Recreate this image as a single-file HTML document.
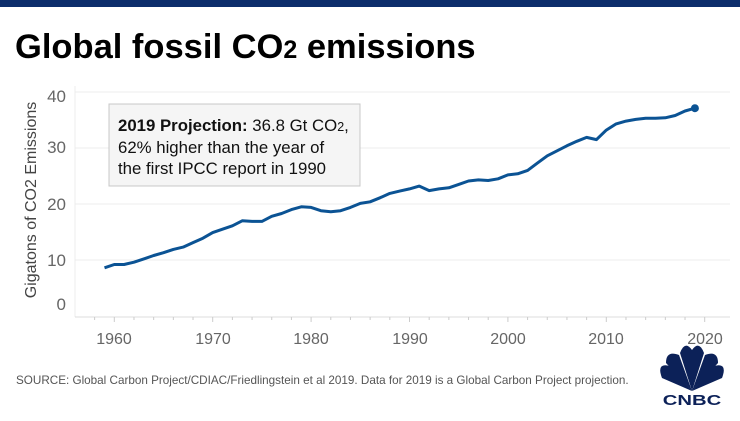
<!DOCTYPE html>
<html><head><meta charset="utf-8"><style>
body{margin:0;width:740px;height:416px;background:#fff;overflow:hidden;font-family:"Liberation Sans",sans-serif}
</style></head><body>
<svg width="740" height="416" xmlns="http://www.w3.org/2000/svg" font-family="Liberation Sans, sans-serif">
<rect x="0" y="0" width="740" height="7" fill="#0c2d6b"/>
<text x="15" y="58" font-size="34.5" font-weight="bold" fill="#000">Global fossil CO<tspan font-size="25">2</tspan> emissions</text>
<g stroke="#ececec" stroke-width="1">
<line x1="75" x2="730" y1="92" y2="92"/><line x1="75" x2="730" y1="148" y2="148"/>
<line x1="75" x2="730" y1="204" y2="204"/><line x1="75" x2="730" y1="260" y2="260"/>
<line x1="75" x2="75" y1="86" y2="317"/>
</g>
<line x1="75" x2="730" y1="317" y2="317" stroke="#ddd"/>
<g id="ticks" stroke="#ccc"></g>
<g font-size="17" fill="#666" text-anchor="end">
<text x="66" y="102">40</text><text x="66" y="153">30</text><text x="66" y="210">20</text><text x="66" y="266">10</text><text x="66" y="310">0</text>
</g>
<g font-size="16" fill="#666" text-anchor="middle">
<text x="114" y="344">1960</text><text x="213" y="344">1970</text><text x="311" y="344">1980</text><text x="410" y="344">1990</text><text x="508" y="344">2000</text><text x="606" y="344">2010</text><text x="705" y="344">2020</text>
</g>
<text transform="translate(36,200) rotate(-90)" font-size="16" fill="#444" text-anchor="middle">Gigatons of CO2 Emissions</text>
<polyline id="ln" fill="none" stroke="#0b5394" stroke-width="3" stroke-linejoin="round"/>
<circle id="dot" r="4" fill="#0b5394"/>
<rect x="109" y="104" width="251" height="82" fill="#f5f5f5" stroke="#c8c8c8"/>
<g font-size="16.8" fill="#111">
<text x="118" y="131"><tspan font-weight="bold">2019 Projection:</tspan> 36.8 Gt CO<tspan font-size="12.5">2</tspan>,</text>
<text x="118" y="153">62% higher than the year of</text>
<text x="118" y="174">the first IPCC report in 1990</text>
</g>
<text x="16" y="384" font-size="11.7" fill="#555">SOURCE: Global Carbon Project/CDIAC/Friedlingstein et al 2019. Data for 2019 is a Global Carbon Project projection.</text>
<g fill="#0c2158">
<path d="M692 391 L662 378 Q656 362 670 366 Z"/>
<path d="M692 391 L666 363 Q666 350 679 355 Z"/>
<path d="M692 391 L680 353 Q685 340 692 350 Z"/>
<path d="M692 391 L704 353 Q699 340 692 350 Z"/>
<path d="M692 391 L718 363 Q718 350 705 355 Z"/>
<path d="M692 391 L722 378 Q728 362 714 366 Z"/>
<text transform="translate(692,405) scale(1.35,1)" font-size="15" font-weight="bold" text-anchor="middle" font-family="Liberation Sans, sans-serif">CNBC</text>
</g>
</svg>
<script>
var d=[8.6,9.2,9.2,9.6,10.2,10.8,11.3,11.9,12.3,13.1,13.9,14.9,15.5,16.1,17.0,16.9,16.9,17.8,18.3,19.0,19.5,19.4,18.8,18.6,18.8,19.4,20.1,20.4,21.1,21.9,22.3,22.7,23.2,22.4,22.7,22.9,23.5,24.1,24.3,24.2,24.5,25.2,25.4,26.0,27.3,28.6,29.5,30.4,31.2,31.9,31.5,33.2,34.3,34.8,35.1,35.3,35.3,35.4,35.8,36.6,37.1];
var p=[];for(var i=0;i<d.length;i++){var x=114.3+9.84*(i-1);var y=316-5.6*d[i];p.push(x.toFixed(1)+","+y.toFixed(1));}
document.getElementById('ln').setAttribute('points',p.join(' '));
var l=p[p.length-1].split(',');var c=document.getElementById('dot');c.setAttribute('cx',l[0]);c.setAttribute('cy',l[1]);
var t='';for(var yr=1958;yr<=2020;yr+=2){var x=114.3+9.84*(yr-1960);t+='<line x1="'+x+'" x2="'+x+'" y1="317" y2="'+(yr%10==0?322:320)+'"/>';}
document.getElementById('ticks').innerHTML=t;
</script>
</body></html>
